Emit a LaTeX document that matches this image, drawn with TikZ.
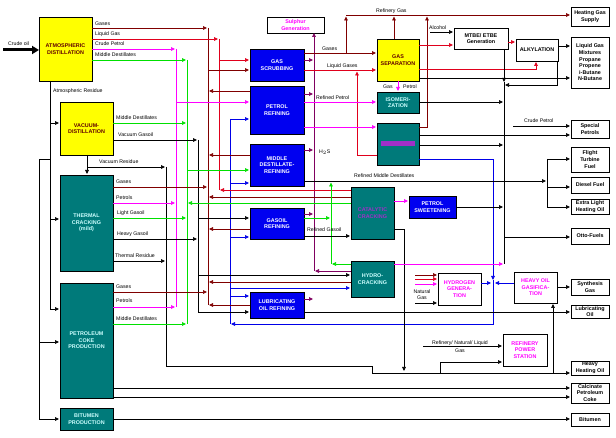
\documentclass[tikz,border=0pt]{standalone}
\usepackage{fontspec}
\setmainfont{Liberation Sans}
\usetikzlibrary{arrows.meta}
\definecolor{cMr}{HTML}{800000}
\definecolor{cRd}{HTML}{E0001C}
\definecolor{cMg}{HTML}{FF00FF}
\definecolor{cGn}{HTML}{00E000}
\definecolor{cBl}{HTML}{0000E8}
\definecolor{cPu}{HTML}{800060}
\definecolor{cTl}{HTML}{007A7A}
\definecolor{cYl}{HTML}{FFFF00}
\definecolor{cBox}{HTML}{0000F0}
\definecolor{cTxt}{HTML}{CCFFFF}
\definecolor{cDk}{HTML}{600000}
\definecolor{cBar}{HTML}{A030C8}
\newcommand\ubox[7]{\node[#1, minimum width={(#5-#3)*1pt}, minimum height={(#6-#4)*1pt}] (#2) at ({(#3+#5)/2},{(#4+#6)/2}) {#7};}
\tikzset{
  unit/.style={draw=black, line width=0.6pt, inner sep=0pt, outer sep=0pt, align=center, font=\fontsize{5.4}{6.6}\selectfont\bfseries},
  yelbox/.style={unit, fill=cYl, text=cDk},
  tealbox/.style={unit, fill=cTl, text=cTxt},
  bluebox/.style={unit, fill=cBox, text=white},
  whitebox/.style={unit, fill=white, text=black},
  pinkbox/.style={unit, fill=white, text=cMg},
  A/.style={line width=0.7pt, draw=#1, -{Triangle[length=4pt,width=3.6pt]}},
  L/.style={line width=0.7pt, draw=#1},
  lab/.style={font=\fontsize{5.2}{6}\selectfont, inner sep=0pt, anchor=base west},
}
\begin{document}
\begin{tikzpicture}[x=1pt,y=-1pt]
\useasboundingbox (0,0) rectangle (616,438);
\fill[white] (0,0) rectangle (616,438);
% ---------- boxes ----------
\ubox{yelbox}{atm}{39}{17}{92}{81}{ATMOSPHERIC\\DISTILLATION}
\ubox{yelbox}{vac}{60}{102}{113}{155}{VACUUM-\\DISTILLATION}
\ubox{tealbox}{thc}{60}{175}{113}{271}{THERMAL\\CRACKING\\(mild)}
\ubox{tealbox}{pcp}{60}{283}{113}{398}{PETROLEUM\\COKE\\PRODUCTION}
\ubox{tealbox}{bit}{60}{408}{113}{430}{BITUMEN\\PRODUCTION}
\ubox{pinkbox}{sul}{267}{17}{324}{33}{Sulphur\\Generation}
\ubox{bluebox}{gsc}{250}{49}{304}{81}{GAS\\SCRUBBING}
\ubox{bluebox}{prf}{250}{86}{304}{134}{PETROL\\REFINING}
\ubox{bluebox}{mdr}{250}{144}{304}{186}{MIDDLE\\DESTILLATE-\\REFINING}
\ubox{bluebox}{gor}{250}{208}{304}{239}{GASOIL\\REFINING}
\ubox{bluebox}{lor}{250}{292}{304}{318}{LUBRICATING\\OIL REFINING}
\ubox{yelbox}{gsp}{377}{39}{419}{81}{GAS\\SEPARATION}
\ubox{tealbox}{iso}{377}{92}{419}{113}{ISOMERI-\\ZATION}
\ubox{tealbox}{rfm}{377}{123}{419}{165}{}
\fill[cBar] (381,141) rectangle (415,146);
\ubox{tealbox}{cat}{351}{187}{394}{239}{\textcolor{cBar}{CATALYTIC}\\\textcolor{cBar}{CRACKING}}
\ubox{tealbox}{hyc}{351}{261}{394}{297}{HYDRO-\\CRACKING}
\ubox{bluebox}{psw}{409}{196}{456}{218}{PETROL\\SWEETENING}
\ubox{whitebox}{mtb}{454}{28}{508}{49}{MTBE/ ETBE\\Generation}
\ubox{whitebox}{alk}{516}{39}{558}{61}{ALKYLATION}
\ubox{pinkbox}{hyg}{438}{273}{481}{305}{HYDROGEN\\GENERA-\\TION}
\ubox{pinkbox}{hog}{514}{272}{557}{303}{HEAVY OIL\\GASIFICA-\\TION}
\ubox{pinkbox}{rps}{503}{334}{547}{366}{REFINERY\\POWER\\STATION}
\ubox{whitebox}{hgs}{571}{7}{609}{26}{Heating Gas\\Supply}
\ubox{whitebox}{lgm}{571}{37}{609}{88}{Liquid Gas\\Mixtures\\Propane\\Propene\\i-Butane\\N-Butane}
\ubox{whitebox}{spp}{571}{120}{609}{138}{Special\\Petrols}
\ubox{whitebox}{ftf}{571}{147}{609}{172}{Flight\\Turbine\\Fuel}
\ubox{whitebox}{dsf}{571}{177}{609}{193}{Diesel Fuel}
\ubox{whitebox}{elh}{571}{199}{609}{214}{Extra Light\\Heating Oil}
\ubox{whitebox}{otf}{571}{228}{609}{244}{Otto-Fuels}
\ubox{whitebox}{syg}{571}{279}{609}{295}{Synthesis\\Gas}
\ubox{whitebox}{lbo}{571}{305}{609}{318}{Lubricating\\Oil}
\ubox{whitebox}{hho}{571}{361}{609}{375}{Heavy\\Heating Oil}
\ubox{whitebox}{cpc}{571}{383}{609}{403}{Calcinate\\Petroleum\\Coke}
\ubox{whitebox}{btm}{571}{413}{609}{426}{Bitumen}
% ---------- crude oil ----------
\coordinate (crude) at (3,50);
\draw[line width=3pt, -{Triangle[length=7pt,width=8pt]}] (crude) -- (atm.west |- crude);
\node[lab] at (8,45.5) {Crude oil};
% ---------- buses ----------
\draw[L=cMr] (208,28) -- (208,305);
\draw[L=cRd] (219,39) -- (219,190);
\draw[L=cMg] (176,49) -- (176,307);
\draw[L=cGn] (187,60) -- (187,324);
\draw[L=cBl] (230,119) -- (230,324);
\draw[L=black] (198,140) -- (198,312);
\draw[A=cPu] (314,271) -- (sul.south -| 314,0);
% ---------- atmospheric distillation ----------
\draw[A=cMr] (92,28) -- (207,28);  \node[lab] at (95,25.5) {Gases};
\draw[A=cRd] (92,39) -- (218,39);  \node[lab] at (95,35.5) {Liquid Gas};
\draw[A=cMg] (92,49) -- (175,49);  \node[lab] at (95,45.5) {Crude Petrol};
\draw[A=cGn] (92,60) -- (186,60);  \node[lab] at (95,56.5) {Middle Destillates};
\node[lab] at (53,93) {Atmospheric Residue};
\draw[L=black] (50,81) -- (50,309);
\draw[A=black] (50,309) -- (59,309);
\draw[A=black] (50,123) -- (59,123);
\draw[A=black] (50,219) -- (59,219);
% ---------- vacuum distillation ----------
\draw[A=cGn] (113,123) -- (186,123); \node[lab] at (116,119.5) {Middle Destillates};
\draw[A=black] (113,140) -- (197,140); \node[lab] at (118,137) {Vacuum Gasoil};
\draw[A=black] (87,155) -- (87,174);
\draw[A=black] (87,167) -- (165,167); \node[lab] at (99,164) {Vacuum Residue};
\draw[L=black] (50,159) -- (39,159) -- (39,419);
\draw[A=black] (39,419) -- (59,419);
\draw[A=black] (39,342) -- (59,342);
\draw[A=black] (166,167) -- (166,366) -- (372,366) -- (372,373) -- (570,373);
% ---------- thermal cracking ----------
\draw[A=cMr] (113,187) -- (207,187); \node[lab] at (116,183.5) {Gases};
\draw[A=cMg] (113,203) -- (175,203); \node[lab] at (116,199.5) {Petrols};
\draw[A=cGn] (113,218) -- (186,218); \node[lab] at (117,214.5) {Light Gasoil};
\draw[A=black] (113,239) -- (197,239); \node[lab] at (117,235.5) {Heavy Gasoil};
\draw[A=black] (113,261) -- (165,261); \node[lab] at (115,257.5) {Thermal Residue};
% ---------- petroleum coke ----------
\draw[A=cMr] (113,292) -- (207,292); \node[lab] at (116,289) {Gases};
\draw[A=cMg] (113,307) -- (175,307); \node[lab] at (116,303) {Petrols};
\draw[A=cGn] (113,324) -- (186,324); \node[lab] at (116,320.5) {Middle Destillates};
\draw[A=black] (113,388) -- (570,388);
\draw[A=black] (113,397) -- (570,397);
\draw[A=black] (113,419) -- (570,419);
% ---------- bus feeds into units ----------
\draw[A=cRd] (219,60) -- (249,60);
\draw[A=cMr] (208,70) -- (249,70);
\draw[A=cMg] (176,102) -- (249,102);
\draw[A=cGn] (187,170) -- (249,170);
\draw[A=black] (198,218) -- (249,218);
\draw[A=black] (198,275) -- (350,275);
\draw[A=black] (198,312) -- (249,312);
\draw[A=cBl] (230,119) -- (249,119);
\draw[A=cBl] (230,183) -- (249,183);
\draw[A=cBl] (230,237) -- (249,237);
\draw[A=cBl] (230,288) -- (350,288);
\draw[A=cBl] (230,296) -- (249,296);
% ---------- unit returns to buses ----------
\draw[A=cMr] (250,91) -- (209,91);
\draw[A=cMr] (250,155) -- (209,155);
\draw[A=cMr] (351,197) -- (209,197);
\draw[A=cMr] (250,229) -- (209,229);
\draw[A=cMr] (351,282) -- (209,282);
\draw[A=cMr] (250,305) -- (209,305);
\draw[A=cRd] (351,190) -- (220,190);
\draw[A=cGn] (351,203) -- (188,203);
% ---------- H2S stubs ----------
\draw[A=cPu] (304,60) -- (313,60);
\draw[A=cPu] (304,94) -- (313,94);
\draw[A=cPu] (304,150) -- (313,150);
\draw[A=cPu] (304,214) -- (313,214);
\draw[A=cPu] (304,299) -- (313,299);
\draw[A=cPu] (351,271) -- (315,271);
\node[lab] at (319,153.5) {H$_2$S};
% ---------- gas scrubbing / separation ----------
\draw[A=cMr] (304,53) -- (376,53); \node[lab] at (322,50.5) {Gases};
\draw[A=cRd] (304,70) -- (376,70); \node[lab] at (327,67.5) {Liquid Gases};
\draw[A=cMr] (346,53) -- (346,16.5);
\draw[L=cMr] (346,15) -- (394,15);
\draw[A=cMr] (394,15) -- (570,15);
\draw[A=cMr] (394,39) -- (394,16.5);
\draw[A=cMr] (419,127) -- (427,127) -- (427,16.5);
\node[lab] at (376,12.5) {Refinery Gas};
\draw[A=cRd] (377,155) -- (357,155) -- (357,71.5);
\draw[A=cMg] (398,81) -- (398,91);
\node[lab] at (383,88.5) {Gas};
\node[lab] at (403,88.5) {Petrol};
\draw[A=black] (430,32) -- (453,32); \node[lab] at (429,29.5) {Alcohol};
\draw[A=cRd] (419,45) -- (453,45);
\draw[A=cRd] (508,42) -- (515,42);
\draw[A=cRd] (419,69) -- (536,69) -- (536,62);
\draw[A=black] (558,46) -- (570,46);
\draw[A=black] (419,78) -- (570,78);
\draw[A=black] (557,61) -- (557,85) -- (505,85);
\draw[A=black] (504,49) -- (504,82);
\draw[L=black] (504,82) -- (504,264);
% ---------- petrol path ----------
\draw[A=cMg] (304,102) -- (376,102); \node[lab] at (316,99.5) {Refined Petrol};
\draw[A=cMg] (304,127) -- (376,127);
\draw[A=black] (419,102) -- (503,102);
\draw[A=black] (419,135) -- (570,135);
\draw[A=black] (419,145) -- (503,145);
\draw[A=black] (513,126) -- (570,126); \node[lab] at (524,123) {Crude Petrol};
\draw[A=cBl] (419,159) -- (493,159) -- (493,280);
\draw[A=cBl] (493,280) -- (493,324) -- (231,324);
% ---------- middle distillates ----------
\draw[A=black] (304,181) -- (546,181); \node[lab] at (354,178) {Refined Middle Destillates};
\draw[L=black] (547,159) -- (547,207);
\draw[A=black] (547,159) -- (570,159);
\draw[A=black] (547,187) -- (570,187);
\draw[A=black] (547,207) -- (570,207);
\draw[A=cGn] (304,218) -- (330,218);
\draw[A=cGn] (331,264) -- (331,182.5);
\draw[A=cGn] (351,264) -- (332,264);
\draw[A=black] (304,236) -- (350,236); \node[lab] at (307,231.5) {Refined Gasoil};
% ---------- catalytic cracking, sweetening ----------
\draw[A=cMg] (394,201) -- (408,201);
\draw[A=black] (394,229) -- (404,229) -- (404,371);
\draw[A=black] (456,207) -- (503,207);
\draw[A=black] (504,237) -- (570,237);
\draw[A=cMg] (394,264) -- (503,264);
% ---------- hydrogen ----------
\draw[A=cMr] (415,275) -- (437,275);
\draw[A=cRd] (415,279) -- (437,279);
\draw[A=cMg] (415,284) -- (437,284);
\draw[A=black] (415,303) -- (437,303);
\node[lab, anchor=center, align=center] at (422,295) {Natural\\Gas};
\draw[A=cBl] (481,283) -- (491,283);
\draw[A=cBl] (514,283) -- (495,283);
\draw[A=black] (557,287) -- (570,287);
\draw[A=black] (553,373) -- (553,304);
\draw[A=black] (440,373) -- (440,362) -- (502,362);
\draw[A=black] (423,346) -- (502,346);
\node[lab, anchor=center, align=center, font=\fontsize{5.2}{8.6}\selectfont] at (460,346.5) {Refinery/ Natural/ Liquid\\Gas};
\draw[A=black] (304,312) -- (570,312);
\end{tikzpicture}
\end{document}
